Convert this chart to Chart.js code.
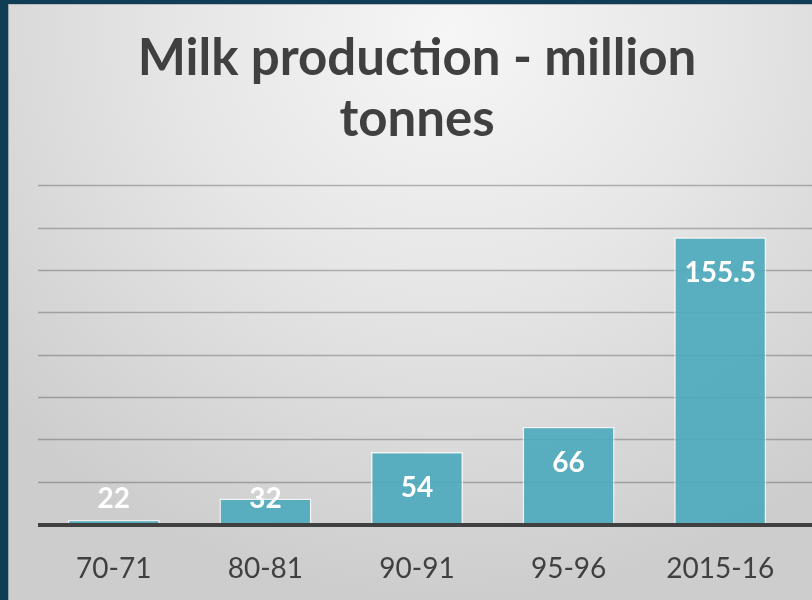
<!DOCTYPE html>
<html>
<head>
<meta charset="utf-8">
<script src="https://cdn.jsdelivr.net/npm/chart.js@4"></script>
<style>
  html, body { margin: 0; padding: 0; }
  body { width: 812px; height: 600px; background: #0f3d54; position: relative; overflow: hidden; }
  #bg { position: absolute; left: 8px; top: 4px; right: 0; bottom: 0;
        border-left: 1px solid #9aa6ab; border-top: 1px solid #b8bcbe;
        background: radial-gradient(ellipse 75% 95% at 55% 5%, #f6f6f6 0%, #e6e6e6 45%, #cdcdcd 100%); }
  #wrap { position: absolute; left: 0; top: 0; width: 812px; height: 600px; }
</style>
</head>
<body>
<div id="bg"></div>
<div id="wrap"><canvas id="milkchart" width="812" height="600"></canvas></div>
<script>
// data
var years = ["70-71", "80-81", "90-91", "95-96", "2015-16"];
var milkValues = [22, 32, 54, 66, 155.5];
var valueLabels = ["22", "32", "54", "66", "155.5"];
var titleLines = ["Milk production - million", "tonnes"];

var FONT = "Lato, 'Open Sans', sans-serif";

// grid lines stretched to the right edge, the dark baseline and the value labels
var gridPlugin = {
  id: "grid",
  beforeDatasetsDraw: function (chart) {
    var ctx = chart.ctx, y = chart.scales.y, area = chart.chartArea;
    ctx.save();
    ctx.strokeStyle = "rgba(0,0,0,0.25)";
    ctx.lineWidth = 1.5;
    y.ticks.forEach(function (t) {
      if (t.value === y.min) return;
      var py = Math.round(y.getPixelForValue(t.value)) + 0.5;
      ctx.beginPath();
      ctx.moveTo(area.left, py);
      ctx.lineTo(chart.width, py);
      ctx.stroke();
    });
    ctx.restore();
  },
  afterDatasetsDraw: function (chart) {
    var ctx = chart.ctx, area = chart.chartArea;
    ctx.save();
    ctx.strokeStyle = "#404040";
    ctx.lineWidth = 4;
    ctx.beginPath();
    ctx.moveTo(area.left, area.bottom + 1);
    ctx.lineTo(chart.width, area.bottom + 1);
    ctx.stroke();

    var meta = chart.getDatasetMeta(0);
    ctx.fillStyle = "#ffffff";
    ctx.font = "bold 28px " + FONT;
    ctx.textAlign = "center";
    ctx.textBaseline = "middle";
    meta.data.forEach(function (bar, i) {
      var py = Math.min(bar.y + 36, area.bottom - 25);
      ctx.fillText(valueLabels[i], bar.x, py);
    });
    ctx.restore();
  }
};

var ctx = document.getElementById("milkchart").getContext("2d");
var MilkChart = new Chart(ctx, {
  type: "bar",
  data: {
    labels: years,
    datasets: [{
      data: milkValues,
      backgroundColor: "rgba(74,170,188,0.9)",
      borderColor: "rgba(255,255,255,0.7)",
      borderWidth: 1.5,
      categoryPercentage: 1,
      barPercentage: 0.607
    }]
  },
  options: {
    responsive: false,
    animation: false,
    layout: { padding: { left: 38, right: 16, top: 12, bottom: 0 } },
    plugins: {
      legend: { display: false },
      tooltip: { enabled: false },
      title: {
        display: true,
        text: titleLines,
        color: "#404040",
        font: { family: FONT, size: 51, weight: "bold", lineHeight: 1.2 },
        padding: { top: 16, bottom: 35 }
      }
    },
    scales: {
      x: {
        grid: { display: false, drawTicks: false },
        border: { display: false },
        ticks: { color: "#404040", font: { family: FONT, size: 28 }, padding: 28 },
        afterFit: function (scale) { scale.height = 76; }
      },
      y: {
        display: false,
        min: 20,
        max: 180,
        ticks: { stepSize: 20 }
      }
    }
  },
  plugins: [gridPlugin]
});
</script>
</body>
</html>
